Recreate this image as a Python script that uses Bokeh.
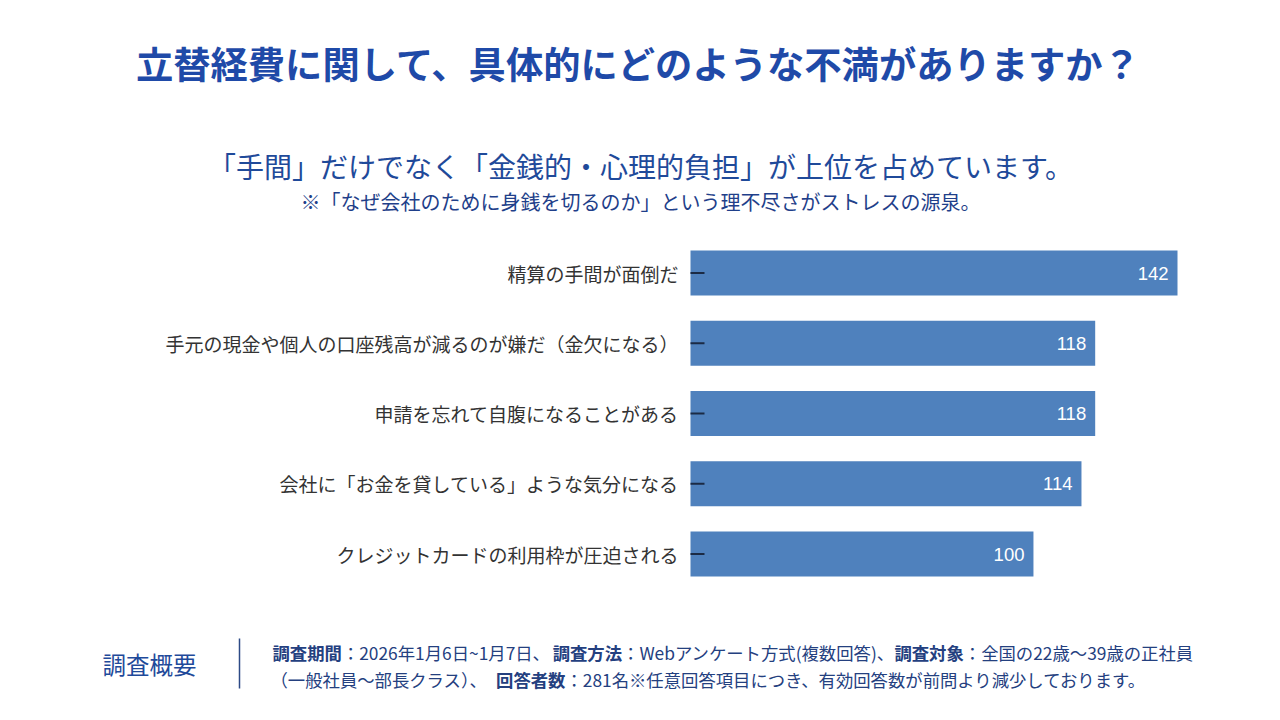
from bokeh.plotting import figure
from bokeh.models import Range1d, ColumnDataSource
from bokeh.embed import file_html
from bokeh.resources import INLINE
from bokeh.core.properties import value

# ---------------- data ----------------
categories = [
    "精算の手間が面倒だ",
    "手元の現金や個人の口座残高が減るのが嫌だ（金欠になる）",
    "申請を忘れて自腹になることがある",
    "会社に「お金を貸している」ような気分になる",
    "クレジットカードの利用枠が圧迫される",
]
counts = [142, 118, 118, 114, 100]
count_labels = [str(c) for c in counts]

title_text = "立替経費に関して、具体的にどのような不満がありますか？"
subtitle_text = "「手間」だけでなく「金銭的・心理的負担」が上位を占めています。"
note_text = "※「なぜ会社のために身銭を切るのか」という理不尽さがストレスの源泉。"
summary_heading = "調査概要"
footer_line1 = [
    ("調査期間", True), ("：2026年1月6日~1月7日、", False),
    ("調査方法", True), ("：Webアンケート方式(複数回答)、", False),
    ("調査対象", True), ("：全国の22歳〜39歳の正社員", False),
]
footer_line2 = [
    ("（一般社員〜部長クラス）、", False),
    ("回答者数", True),
    ("：281名※任意回答項目につき、有効回答数が前問より減少しております。", False),
]

# ---------------- layout constants ----------------
W, H = 1264, 704
X0 = 690.0        # pixel column of value 0
PX_PER_UNIT = 3.4296
Y0 = 272.5        # pixel row of first category centre
ROW = 70.25       # pixels between category rows

FONT = "Noto Sans CJK JP"
BAR = "#4F81BD"


def dx(X):
    return (X - X0) / PX_PER_UNIT


def dy(Y):
    return (Y - Y0) / ROW


p = figure(
    width=W, height=H,
    x_range=Range1d(dx(0), dx(W)),
    y_range=Range1d(dy(H), dy(0)),   # inverted: first row at top
    x_axis_location=None, y_axis_location=None,
    output_backend="svg", toolbar_location=None,
    min_border=0,
)
p.outline_line_color = None
p.grid.grid_line_color = None
p.background_fill_color = "white"
p.border_fill_color = "white"

rows = list(range(len(categories)))
src = ColumnDataSource(dict(row=rows, cat=categories, count=counts,
                            label=count_labels, zero=[0] * len(rows),
                            tick_end=[dx(X0 + 14)] * len(rows)))

p.hbar(y="row", left=0, right="count", height=45 / ROW, source=src,
       fill_color=BAR, line_color=None)
p.text(x="count", y="row", text="label", source=src, x_offset=-9,
       text_align="right", text_baseline="middle", text_color="white",
       text_font=value("Liberation Sans"), text_font_size="18.5px")

# category axis: labels and inner ticks
p.text(x="zero", y="row", text="cat", source=src, x_offset=-12,
       text_align="right", text_baseline="middle", text_color="#333333",
       text_font=value(FONT), text_font_size="19px")
p.segment(x0="zero", x1="tick_end", y0="row", y1="row", source=src,
          line_color="#1b2a44", line_width=2)


def lab(text, X, Y, size, color, bold=False, align="left"):
    p.text(x=[dx(X)], y=[dy(Y)], text=[text], text_font=value(FONT),
           text_font_size=f"{size}px", text_color=color,
           text_font_style="bold" if bold else "normal",
           text_align=align, text_baseline="middle")


lab(title_text, 638, 62, 37.3, "#1f4aa8", bold=True, align="center")
lab(subtitle_text, 640, 165, 28, "#1f4a9a", align="center")
lab(note_text, 640, 201, 20, "#1f3f8a", align="center")
lab(summary_heading, 102, 663, 23.5, "#1f4a9a")

p.segment(x0=[dx(239)], x1=[dx(239)], y0=[dy(638)], y1=[dy(688)],
          line_color="#2d4a86", line_width=1.5)


def char_w(c):
    if c.isdigit():
        return 0.572
    if c == "W":
        return 0.9
    if c in "()":
        return 0.33
    if c == "~":
        return 0.57
    if ord(c) < 128:
        return 0.57
    return 1.0


FS = 17.35
FOOT = "#24407f"


def footer(segments, X, Y):
    x = X
    for txt, bold in segments:
        lab(txt, x, Y, FS, FOOT, bold=bold)
        x += sum(char_w(c) for c in txt) * FS


footer(footer_line1, 272, 652)
footer(footer_line2, 270, 679)

open("out.html", "w").write(file_html(p, INLINE))
